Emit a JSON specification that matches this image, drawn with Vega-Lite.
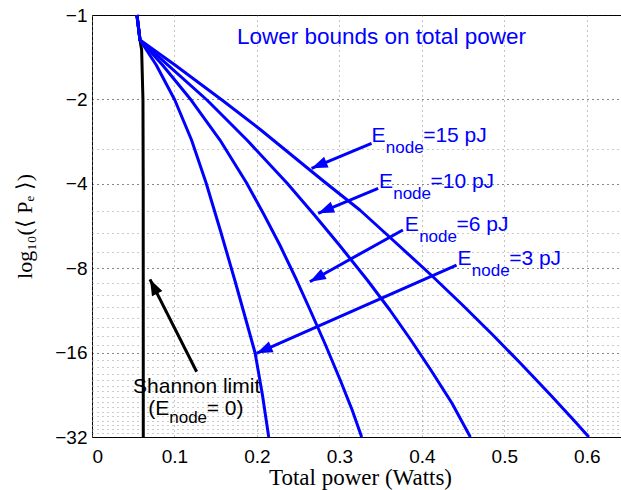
{
  "$schema": "https://vega.github.io/schema/vega-lite/v6.json",
  "width": 536,
  "height": 422,
  "autosize": "none",
  "padding": {"left": 92, "top": 15, "right": -7, "bottom": 53},
  "background": "white",
  "config": {"view": {"stroke": "black", "strokeWidth": 1}},
  "datasets": {
    "curves": [
      {"series": "E0", "x": 0.0545, "y": -1}, {"series": "E0", "x": 0.0582, "y": -1.228}, {"series": "E0", "x": 0.0602, "y": -1.333}, {"series": "E0", "x": 0.0618, "y": -2.01}, {"series": "E0", "x": 0.0621, "y": -4}, {"series": "E0", "x": 0.0622, "y": -32},
      {"series": "E3", "x": 0.0545, "y": -1}, {"series": "E3", "x": 0.0582, "y": -1.228}, {"series": "E3", "x": 0.0779, "y": -1.508}, {"series": "E3", "x": 0.1004, "y": -2.01}, {"series": "E3", "x": 0.1207, "y": -2.792}, {"series": "E3", "x": 0.1384, "y": -3.974}, {"series": "E3", "x": 0.1555, "y": -5.845}, {"series": "E3", "x": 0.1731, "y": -8.815}, {"series": "E3", "x": 0.1867, "y": -12.241}, {"series": "E3", "x": 0.1978, "y": -16.05}, {"series": "E3", "x": 0.2067, "y": -22.67}, {"series": "E3", "x": 0.2143, "y": -32},
      {"series": "E6", "x": 0.0545, "y": -1}, {"series": "E6", "x": 0.0582, "y": -1.228}, {"series": "E6", "x": 0.0855, "y": -1.508}, {"series": "E6", "x": 0.1202, "y": -2.01}, {"series": "E6", "x": 0.1552, "y": -2.792}, {"series": "E6", "x": 0.1875, "y": -3.974}, {"series": "E6", "x": 0.2088, "y": -5.168}, {"series": "E6", "x": 0.2278, "y": -6.613}, {"series": "E6", "x": 0.2481, "y": -8.815}, {"series": "E6", "x": 0.2645, "y": -11.276}, {"series": "E6", "x": 0.2832, "y": -15.033}, {"series": "E6", "x": 0.301, "y": -20.04}, {"series": "E6", "x": 0.3155, "y": -25.63}, {"series": "E6", "x": 0.327, "y": -32},
      {"series": "E10", "x": 0.0545, "y": -1}, {"series": "E10", "x": 0.0582, "y": -1.228}, {"series": "E10", "x": 0.0921, "y": -1.508}, {"series": "E10", "x": 0.1394, "y": -2.01}, {"series": "E10", "x": 0.1879, "y": -2.792}, {"series": "E10", "x": 0.2364, "y": -3.974}, {"series": "E10", "x": 0.2697, "y": -5.168}, {"series": "E10", "x": 0.2999, "y": -6.613}, {"series": "E10", "x": 0.3338, "y": -8.815}, {"series": "E10", "x": 0.3612, "y": -11.276}, {"series": "E10", "x": 0.3867, "y": -14.428}, {"series": "E10", "x": 0.4109, "y": -18.46}, {"series": "E10", "x": 0.4364, "y": -24.21}, {"series": "E10", "x": 0.4588, "y": -32},
      {"series": "E15", "x": 0.0545, "y": -1}, {"series": "E15", "x": 0.0582, "y": -1.228}, {"series": "E15", "x": 0.1006, "y": -1.508}, {"series": "E15", "x": 0.1576, "y": -2.01}, {"series": "E15", "x": 0.2048, "y": -2.571}, {"series": "E15", "x": 0.2642, "y": -3.571}, {"series": "E15", "x": 0.2836, "y": -3.974}, {"series": "E15", "x": 0.3248, "y": -4.96}, {"series": "E15", "x": 0.3648, "y": -6.346}, {"series": "E15", "x": 0.4112, "y": -8.46}, {"series": "E15", "x": 0.4493, "y": -10.823}, {"series": "E15", "x": 0.4861, "y": -13.845}, {"series": "E15", "x": 0.5193, "y": -17.43}, {"series": "E15", "x": 0.5561, "y": -22.67}, {"series": "E15", "x": 0.584, "y": -27.83}, {"series": "E15", "x": 0.6025, "y": -32}
    ],
    "arrows": [
      {"id": "E15", "x": 0.339, "y": -2.868, "x2": 0.2663, "y2": -3.522},
      {"id": "E10", "x": 0.347, "y": -4.15, "x2": 0.2743, "y2": -5.097},
      {"id": "E6", "x": 0.377, "y": -5.845, "x2": 0.2642, "y2": -8.938},
      {"id": "E3", "x": 0.4421, "y": -7.793, "x2": 0.1996, "y2": -16.09},
      {"id": "E0", "x": 0.1269, "y": -18.72, "x2": 0.0703, "y2": -8.764}
    ],
    "labels": [
      {"x": 0.339, "y": -2.831, "rest": "=15 pJ"},
      {"x": 0.3479, "y": -4.15, "rest": "=10 pJ"},
      {"x": 0.3794, "y": -5.893, "rest": "=6 pJ"},
      {"x": 0.4433, "y": -7.793, "rest": "=3 pJ"}
    ]
  },
  "encoding": {
    "x": {
      "field": "x", "type": "quantitative",
      "scale": {"domain": [0, 0.65], "nice": false, "zero": false},
      "axis": {
        "title": "Total power (Watts)",
        "values": [0, 0.1, 0.2, 0.3, 0.4, 0.5, 0.6],
        "format": ".1~f",
        "grid": true, "gridColor": "#888", "gridDash": [1, 4], "gridWidth": 1,
        "ticks": false, "domain": false,
        "labelFont": "Liberation Sans", "labelFontSize": 19, "labelColor": "black", "labelPadding": 10,
        "titleFont": "Liberation Serif", "titleFontSize": 23, "titleFontWeight": "normal", "titleColor": "black", "titlePadding": 0
      }
    },
    "y": {
      "field": "y", "type": "quantitative",
      "scale": {"type": "log", "base": 2, "domain": [-32, -1], "nice": false},
      "axis": {
        "title": "log₁₀(⟨ Pₑ ⟩)",
        "values": [-1, -2, -3, -4, -5, -6, -7, -8, -9, -10, -11, -12, -13, -14, -15, -16, -17, -18, -19, -20, -21, -22, -23, -24, -25, -26, -27, -28, -29, -30, -31, -32],
        "labelExpr": "indexof([1,2,4,8,16,32], -datum.value) >= 0 ? '−' + (-datum.value) : ''",
        "labelOverlap": false,
        "grid": true,
        "gridColor": {"condition": {"test": "indexof([1,2,4,8,16,32], -datum.value) >= 0", "value": "#111"}, "value": "#999"},
        "gridDash": [1, 4], "gridWidth": 1,
        "ticks": false, "domain": false,
        "labelFont": "Liberation Sans", "labelFontSize": 19, "labelColor": "black", "labelPadding": 5,
        "titleFont": "Liberation Serif", "titleFontSize": 22, "titleFontWeight": "normal", "titleColor": "black", "titlePadding": 18
      }
    }
  },
  "layer": [
    {
      "data": {"name": "curves"},
      "transform": [{"filter": "datum.series == 'E0'"}],
      "mark": {"type": "line", "color": "black", "strokeWidth": 3},
      "encoding": {"detail": {"field": "series"}}
    },
    {
      "data": {"name": "curves"},
      "transform": [{"filter": "datum.series != 'E0'"}],
      "mark": {"type": "line", "color": "#0000ff", "strokeWidth": 3, "strokeJoin": "round"},
      "encoding": {"detail": {"field": "series"}}
    },
    {
      "data": {"name": "arrows"},
      "mark": {"type": "rule", "strokeWidth": 3},
      "encoding": {
        "x2": {"field": "x2"},
        "y2": {"field": "y2"},
        "color": {"condition": {"test": "datum.id == 'E0'", "value": "black"}, "value": "#0000ff"}
      }
    },
    {
      "data": {"name": "arrows"},
      "transform": [{"filter": "datum.id == 'E15' || datum.id == 'E10'"}],
      "mark": {"type": "point", "shape": "M0,0L0.4,1.1L-0.4,1.1Z", "filled": true, "opacity": 1, "size": 841, "angle": 247.4, "color": "#0000ff", "strokeWidth": 0},
      "encoding": {"x": {"field": "x2", "type": "quantitative"}, "y": {"field": "y2", "type": "quantitative"}}
    },
    {
      "data": {"name": "arrows"},
      "transform": [{"filter": "datum.id == 'E6'"}],
      "mark": {"type": "point", "shape": "M0,0L0.4,1.1L-0.4,1.1Z", "filled": true, "opacity": 1, "size": 841, "angle": 240.9, "color": "#0000ff", "strokeWidth": 0},
      "encoding": {"x": {"field": "x2", "type": "quantitative"}, "y": {"field": "y2", "type": "quantitative"}}
    },
    {
      "data": {"name": "arrows"},
      "transform": [{"filter": "datum.id == 'E3'"}],
      "mark": {"type": "point", "shape": "M0,0L0.4,1.1L-0.4,1.1Z", "filled": true, "opacity": 1, "size": 841, "angle": 246.2, "color": "#0000ff", "strokeWidth": 0},
      "encoding": {"x": {"field": "x2", "type": "quantitative"}, "y": {"field": "y2", "type": "quantitative"}}
    },
    {
      "data": {"name": "arrows"},
      "transform": [{"filter": "datum.id == 'E0'"}],
      "mark": {"type": "point", "shape": "M0,0L0.4,1.1L-0.4,1.1Z", "filled": true, "opacity": 1, "size": 841, "angle": 333.2, "color": "black", "strokeWidth": 0},
      "encoding": {"x": {"field": "x2", "type": "quantitative"}, "y": {"field": "y2", "type": "quantitative"}}
    },
    {
      "data": {"name": "labels"},
      "mark": {"type": "text", "align": "left", "baseline": "alphabetic", "font": "Liberation Sans", "fontSize": 21, "fill": "#0000ff"},
      "encoding": {"text": {"value": "E"}}
    },
    {
      "data": {"name": "labels"},
      "mark": {"type": "text", "align": "left", "baseline": "alphabetic", "font": "Liberation Sans", "fontSize": 17, "fill": "#0000ff", "dx": 14.3, "dy": 11},
      "encoding": {"text": {"value": "node"}}
    },
    {
      "data": {"name": "labels"},
      "mark": {"type": "text", "align": "left", "baseline": "alphabetic", "font": "Liberation Sans", "fontSize": 21, "fill": "#0000ff", "dx": 51.6},
      "encoding": {"text": {"field": "rest"}}
    },
    {
      "data": {"values": [{"x": 0.1758, "y": -1.269, "t": "Lower bounds on total power"}]},
      "mark": {"type": "text", "align": "left", "baseline": "alphabetic", "font": "Liberation Sans", "fontSize": 22.5, "fill": "#0000ff"},
      "encoding": {"text": {"field": "t"}}
    },
    {
      "data": {"values": [{"x": 0.1269, "y": -22.3, "t": "Shannon limit"}]},
      "mark": {"type": "text", "align": "center", "baseline": "alphabetic", "font": "Liberation Sans", "fontSize": 21, "fill": "black"},
      "encoding": {"text": {"field": "t"}}
    },
    {
      "data": {"values": [{"x": 0.0682, "y": -26.71, "a": "(E", "b": "node", "c": "= 0)"}]},
      "layer": [
        {"mark": {"type": "text", "align": "left", "baseline": "alphabetic", "font": "Liberation Sans", "fontSize": 21, "fill": "black"}, "encoding": {"text": {"field": "a"}}},
        {"mark": {"type": "text", "align": "left", "baseline": "alphabetic", "font": "Liberation Sans", "fontSize": 17, "fill": "black", "dx": 21, "dy": 8.3}, "encoding": {"text": {"field": "b"}}},
        {"mark": {"type": "text", "align": "left", "baseline": "alphabetic", "font": "Liberation Sans", "fontSize": 21, "fill": "black", "dx": 58.4}, "encoding": {"text": {"field": "c"}}}
      ]
    }
  ]
}
